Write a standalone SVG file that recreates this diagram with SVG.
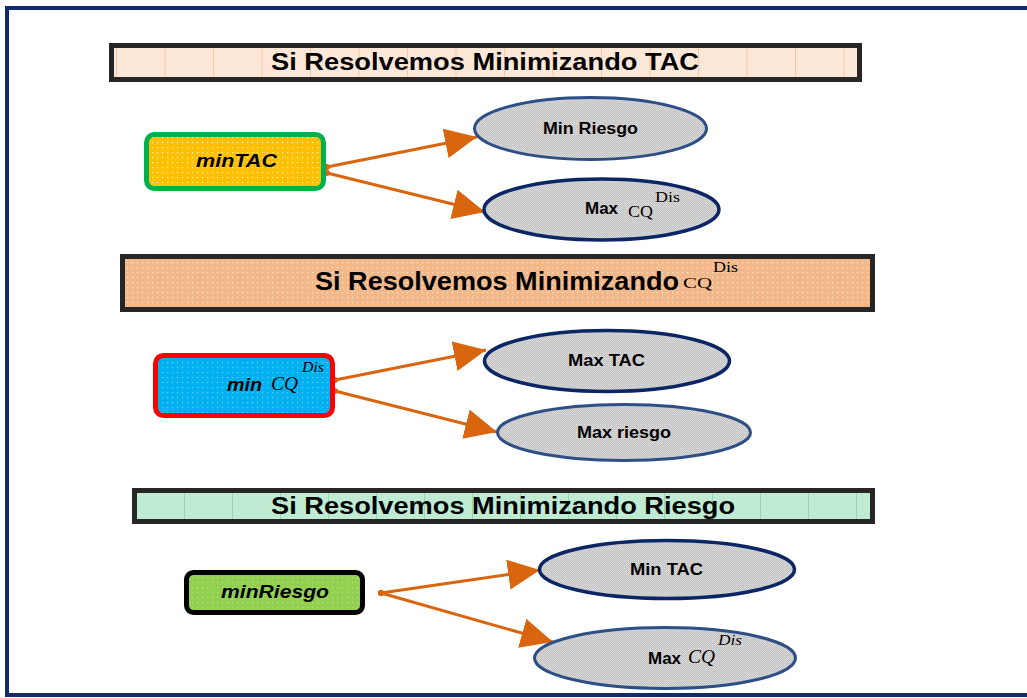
<svg xmlns="http://www.w3.org/2000/svg" width="1027" height="698" viewBox="0 0 1027 698">
<style>
.hdr{stroke:#262626;stroke-width:5}
.t{font-family:"Liberation Sans",Arial,sans-serif;font-weight:bold;fill:#000}
.ti{font-family:"Liberation Sans",Arial,sans-serif;font-weight:bold;font-style:italic;fill:#000}
.s{font-family:"Liberation Serif","Times New Roman",serif;fill:#000}
.si{font-family:"Liberation Serif","Times New Roman",serif;font-style:italic;fill:#000}
.e1{fill:url(#pG);stroke:#2e4f85;stroke-width:3}
.e2{fill:url(#pG);stroke:#0b2565;stroke-width:3.5}
.con{stroke:#d9650e;stroke-width:3;fill:none;marker-start:url(#dot);marker-end:url(#ah)}
</style>
<defs>
<pattern id="pY" width="5" height="5" patternUnits="userSpaceOnUse"><rect width="5" height="5" fill="#ffc000"/><rect x="2" y="2" width="1.2" height="1.2" fill="#fff3c8"/></pattern>
<pattern id="pB" width="5" height="5" patternUnits="userSpaceOnUse"><rect width="5" height="5" fill="#00b0f0"/><rect x="2" y="2" width="1.2" height="1.2" fill="#66d2f8"/></pattern>
<pattern id="pL" width="5" height="5" patternUnits="userSpaceOnUse"><rect width="5" height="5" fill="#92d050"/><rect x="2" y="2" width="1.2" height="1.2" fill="#b6e28c"/></pattern>
<pattern id="pP" width="5" height="5" patternUnits="userSpaceOnUse"><rect width="5" height="5" fill="#f3b88a"/><rect x="2" y="2" width="1.2" height="1.2" fill="#fde6d2"/></pattern>
<pattern id="pG" width="2" height="2" patternUnits="userSpaceOnUse"><rect width="2" height="2" fill="#c2c2c2"/><rect width="1" height="1" fill="#dedede"/><rect x="1" y="1" width="1" height="1" fill="#d4d4d4"/></pattern>
<pattern id="pH1" x="116" y="0" width="48.5" height="698" patternUnits="userSpaceOnUse"><rect width="48.5" height="698" fill="#fde8d8"/><line x1="0.5" y1="0" x2="0.5" y2="698" stroke="#f6c8a6" stroke-width="1"/></pattern>
<pattern id="pH3" x="136" y="0" width="48" height="698" patternUnits="userSpaceOnUse"><rect width="48" height="698" fill="#bfebd2"/><line x1="0.5" y1="0" x2="0.5" y2="698" stroke="#8fd8b0" stroke-width="1"/></pattern>
<marker id="ah" markerUnits="userSpaceOnUse" markerWidth="34" markerHeight="32" refX="32" refY="15" orient="auto"><path d="M0,0 L32,15 L0,30 z" fill="#d9650e"/></marker>
<marker id="dot" markerUnits="userSpaceOnUse" markerWidth="8" markerHeight="8" refX="4" refY="4"><circle cx="4" cy="4" r="3" fill="#d9650e"/></marker>
</defs>
<rect x="0" y="0" width="1027" height="698" fill="#fff"/>
<rect id="frame" x="7" y="8" width="1030" height="687" fill="none" stroke="#102a6b" stroke-width="4"/>

<g id="header1">
<rect class="hdr" x="111.5" y="45.5" width="748" height="34" fill="url(#pH1)"/>
<text class="t" x="271" y="70" font-size="23" textLength="428" lengthAdjust="spacingAndGlyphs">Si Resolvemos Minimizando TAC</text>
</g>
<g id="header2">
<rect class="hdr" x="122.5" y="256.5" width="750" height="53" fill="url(#pP)"/>
<text class="t" x="315" y="290" font-size="25" textLength="364" lengthAdjust="spacingAndGlyphs">Si Resolvemos Minimizando</text>
<text class="s" x="683" y="288" font-size="15" textLength="29" lengthAdjust="spacingAndGlyphs">CQ</text>
<text class="s" x="713" y="272" font-size="15" textLength="25" lengthAdjust="spacingAndGlyphs">Dis</text>
</g>
<g id="header3">
<rect class="hdr" x="134.5" y="490.5" width="738" height="31" fill="url(#pH3)"/>
<text class="t" x="271" y="514" font-size="23" textLength="464" lengthAdjust="spacingAndGlyphs">Si Resolvemos Minimizando Riesgo</text>
</g>

<g id="connectors">
<line class="con" x1="327" y1="167" x2="477" y2="137"/>
<line class="con" x1="327" y1="173" x2="485" y2="212"/>
<line class="con" x1="335" y1="380" x2="486" y2="350"/>
<line class="con" x1="335" y1="391" x2="497" y2="432"/>
<line class="con" x1="381" y1="593" x2="540" y2="570"/>
<line class="con" x1="381" y1="593" x2="553" y2="642"/>
</g>

<g id="minTAC">
<rect x="146.5" y="134.5" width="177" height="54" rx="8" fill="url(#pY)" stroke="#00b050" stroke-width="5"/>
<text class="ti" x="196" y="167" font-size="19" textLength="81" lengthAdjust="spacingAndGlyphs">minTAC</text>
</g>
<g id="minRiesgo_ellipse">
<ellipse class="e1" cx="590.5" cy="128.5" rx="116" ry="31"/>
<text class="t" x="543" y="134" font-size="16" textLength="95" lengthAdjust="spacingAndGlyphs">Min Riesgo</text>
</g>
<g id="maxCQ1">
<ellipse class="e2" cx="601.5" cy="209.5" rx="117.5" ry="30.5"/>
<text class="t" x="585" y="214" font-size="16" textLength="33" lengthAdjust="spacingAndGlyphs">Max</text>
<text class="s" x="628" y="217" font-size="17" textLength="25" lengthAdjust="spacingAndGlyphs">CQ</text>
<text class="s" x="655" y="202" font-size="15" textLength="25" lengthAdjust="spacingAndGlyphs">Dis</text>
</g>

<g id="minCQ">
<rect x="155.5" y="355.5" width="177" height="60" rx="8" fill="url(#pB)" stroke="#ff0000" stroke-width="5"/>
<text class="ti" x="227" y="391" font-size="19" textLength="35" lengthAdjust="spacingAndGlyphs">min</text>
<text class="si" x="271" y="390" font-size="18" textLength="27" lengthAdjust="spacingAndGlyphs">CQ</text>
<text class="si" x="302" y="372" font-size="15" textLength="22" lengthAdjust="spacingAndGlyphs">Dis</text>
</g>
<g id="maxTAC">
<ellipse class="e2" cx="607" cy="361" rx="122.5" ry="30.5"/>
<text class="t" x="568" y="366" font-size="16" textLength="77" lengthAdjust="spacingAndGlyphs">Max TAC</text>
</g>
<g id="maxRiesgo">
<ellipse class="e1" cx="624" cy="432.5" rx="126.5" ry="28"/>
<text class="t" x="577" y="438" font-size="16" textLength="94" lengthAdjust="spacingAndGlyphs">Max riesgo</text>
</g>

<g id="minRiesgo">
<rect x="186.5" y="572.5" width="176" height="40" rx="7" fill="url(#pL)" stroke="#000" stroke-width="5"/>
<text class="ti" x="221" y="598" font-size="19" textLength="108" lengthAdjust="spacingAndGlyphs">minRiesgo</text>
</g>
<g id="minTAC_ellipse">
<ellipse class="e2" cx="667" cy="569.5" rx="127.5" ry="29"/>
<text class="t" x="630" y="575" font-size="16" textLength="73" lengthAdjust="spacingAndGlyphs">Min TAC</text>
</g>
<g id="maxCQ3">
<ellipse class="e1" cx="665" cy="658" rx="130.5" ry="30.5"/>
<text class="t" x="648" y="664" font-size="16" textLength="33" lengthAdjust="spacingAndGlyphs">Max</text>
<text class="si" x="688" y="663" font-size="18" textLength="27" lengthAdjust="spacingAndGlyphs">CQ</text>
<text class="si" x="718" y="645" font-size="15" textLength="24" lengthAdjust="spacingAndGlyphs">Dis</text>
</g>
</svg>
